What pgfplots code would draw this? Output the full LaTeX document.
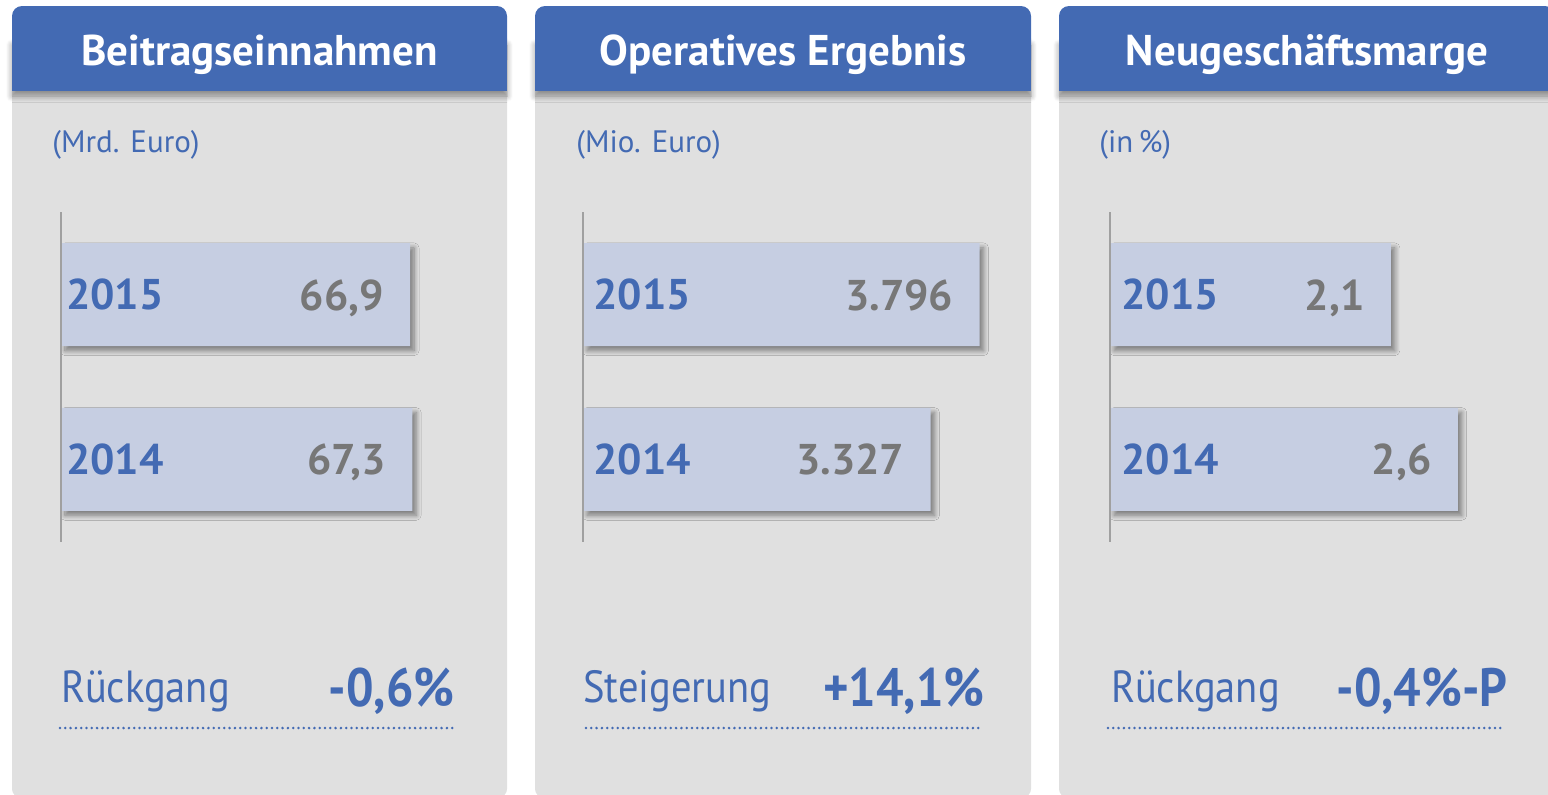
\documentclass[border=0pt]{standalone}
\usepackage{fontspec}
\setmainfont{PT Sans}
\newfontfamily\narrowfont{PT Sans}[FakeStretch=0.9]
\usepackage{pgfplots}
\usepackage{pgfplotstable}
\pgfplotsset{compat=1.18}
\usetikzlibrary{shadows.blur}
\definecolor{hdr}{HTML}{436AB3}
\definecolor{txtblue}{HTML}{436AB3}
\definecolor{panelbg}{HTML}{E0E0E0}
\definecolor{barc}{HTML}{C6CEE2}
\definecolor{valgray}{HTML}{777777}
\definecolor{axgray}{HTML}{A0A0A0}

\pgfplotstableread{
y v
0 67.3
1 66.9
}\tA
\pgfplotstableread{
y v
0 3327
1 3796
}\tB
\pgfplotstableread{
y v
0 2.6
1 2.1
}\tC

\newcommand{\yrfont}{\fontsize{21.5}{24}\selectfont\bfseries}
\pgfplotsset{
 kpi/.style={
  xbar, scale only axis, height=164.7pt, ymin=-0.5, ymax=1.5, xmin=0,
  bar width=51.5pt, bar shift=0pt,
  hide x axis, axis y line*=left,
  y axis line style={axgray, line width=1pt, -},
  every outer y axis line/.append style={-},
  ytick={0,1}, yticklabels={2014,2015}, ytick style={draw=none}, major tick length=0pt,
  yticklabel style={anchor=west, inner sep=0pt, font=\yrfont, text=txtblue},
  clip=false, axis on top,
  anchor=south west,
  /pgf/number format/.cd, use comma, assume math mode=true,
 },
 barstyle/.style={fill=barc, draw=none,
  blur shadow={shadow xshift=2pt, shadow yshift=-2.3pt, shadow blur radius=2.4pt, shadow blur steps=10, shadow opacity=45}},
 valstyle/.style={fill=none, draw=none, nodes near coords,
  nodes near coords style={anchor=east, xshift=-13pt, inner sep=0pt, text depth=0pt, font=\yrfont, text=valgray}},
}

\begin{document}
\begin{tikzpicture}
\begin{scope}[x=0.5pt, y=-0.5pt]
\useasboundingbox (0,0) rectangle (1548,794);
\foreach \xa/\xb in {12/507, 535/1031, 1059/1555}{
  \fill[panelbg, rounded corners=4pt] (\xa,30) rectangle (\xb,797);
  \fill[hdr, blur shadow={shadow xshift=0pt, shadow yshift=-2.5pt, shadow blur radius=3pt, shadow blur steps=8, shadow opacity=40}] (\xa,40) rectangle (\xb,91);
  \fill[hdr, rounded corners=5pt] (\xa,6) rectangle (\xb,70);
}
\end{scope}

% Panel 1
\begin{axis}[kpi, at={(30.5pt,-270.85pt)}, width=208.8pt, xmax=80,
  yticklabel style={xshift=2.3pt}]
\addplot[barstyle] table[x=v,y=y]{\tA};
\addplot[valstyle] table[x=v,y=y]{\tA};
\end{axis}

% Panel 2
\begin{axis}[kpi, at={(291.5pt,-270.85pt)}, width=235.1pt, xmax=4500,
  yticklabel style={xshift=5pt}]
\addplot[barstyle] table[x=v,y=y]{\tB};
\addplot[valstyle] table[x=v,y=y]{\tB};
\end{axis}

% Panel 3
\begin{axis}[kpi, at={(555pt,-270.85pt)}, width=200.7pt, xmax=3,
  yticklabel style={xshift=5.5pt}]
\addplot[barstyle] table[x=v,y=y]{\tC};
\addplot[valstyle] table[x=v,y=y]{\tC};
\end{axis}

\begin{scope}[x=0.5pt, y=-0.5pt]
\tikzset{
  ttl/.style={anchor=base, inner sep=0pt, text=white, font=\fontsize{21.5}{24}\selectfont\bfseries},
  unit/.style={anchor=base west, inner sep=0pt, text=txtblue, font=\fontsize{15.5}{18}\selectfont},
  blab/.style={anchor=base west, inner sep=0pt, text=txtblue, font=\narrowfont\fontsize{22.5}{26}\selectfont},
  bval/.style={anchor=base east, inner sep=0pt, text=txtblue, font=\narrowfont\fontsize{27}{30}\selectfont\bfseries},
  dots/.style={txtblue, line width=1.4pt, line cap=round, dash pattern=on 0pt off 2.65pt},
}
\node[ttl] at (259.5,65) {Beitragseinnahmen};
\node[ttl] at (783,65) {Operatives Ergebnis};
\node[ttl] at (1307,65) {Neugeschäftsmarge};

\node[unit] at (52,152) {(Mrd. Euro)};
\node[unit] at (576,152) {(Mio. Euro)};
\node[unit] at (1099,152) {(in\,\%)};

\node[blab] at (61,702) {Rückgang};
\node[bval] at (455,706) {-0,6\%};
\draw[dots] (60,728) -- (456,728);

\node[blab] at (583,702) {Steigerung};
\node[bval] at (985,706) {+14,1\%};
\draw[dots] (586,728) -- (983,728);

\node[blab] at (1111,702) {Rückgang};
\node[bval] at (1508,706) {-0,4\%-P};
\draw[dots] (1108,728) -- (1504,728);
\end{scope}
\end{tikzpicture}
\end{document}
